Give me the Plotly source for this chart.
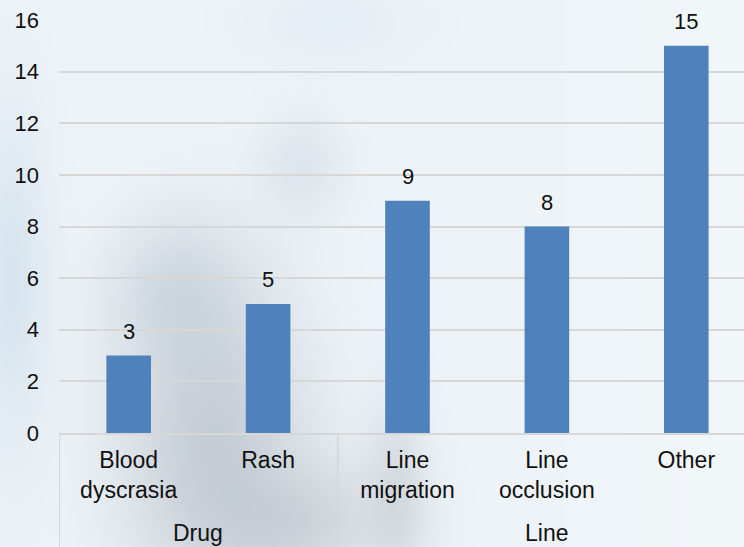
import base64
import struct
import zlib

import numpy as np
import plotly.graph_objects as go

# ---------------- data ----------------
groups = ["Drug", "Line"]
group_sizes = [2, 3]
categories = ["Blood<br>dyscrasia", "Rash", "Line<br>migration", "Line<br>occlusion", "Other"]
counts = [3, 5, 9, 8, 15]
y_ticks = [0, 2, 4, 6, 8, 10, 12, 14, 16]

# ---------------- layout constants ----------------
W, H = 744, 547
ML, MR, MT, MB = 59, 0, 20, 114
PW, PH = W - ML - MR, H - MT - MB
FONT = "Liberation Sans, Arial, sans-serif"
TXT = "#111111"
BAR = "#4f81bd"
GRID = "#d7d7d7"


# ---------------- soft blurred backdrop (decorative) ----------------
def make_backdrop(w=186, h=137):
    sx, sy = W / w, H / h
    yy, xx = np.mgrid[0:h, 0:w].astype(float)
    X, Y = xx * sx, yy * sy
    base = np.array([238, 244, 248], float)
    img = np.ones((h, w, 3)) * base

    def blob(cx, cy, rx, ry, col, s):
        a = s * np.exp(-(((X - cx) / rx) ** 2 + ((Y - cy) / ry) ** 2) / 2)
        return a[..., None], np.array(col, float)

    blobs = [
        (210, 430, 65, 110, (168, 177, 187), 0.55),
        (175, 290, 45, 50, (178, 190, 202), 0.4),
        (290, 520, 70, 45, (172, 180, 188), 0.45),
        (300, 165, 30, 35, (175, 192, 205), 0.25),
        (395, 490, 22, 70, (178, 185, 192), 0.35),
        (10, 280, 25, 120, (195, 215, 230), 0.5),
        (330, 20, 60, 30, (210, 225, 237), 0.3),
    ]
    for b in blobs:
        a, col = blob(*b)
        img = img * (1 - a) + col * a
    # brighter right side
    r = np.clip((X - 560) / 150, 0, 1)[..., None] * 0.5
    img = img * (1 - r) + np.array([246, 249, 251], float) * r
    return np.clip(img, 0, 255).astype(np.uint8)


def png_uri(arr):
    h, w, _ = arr.shape
    raw = b"".join(b"\x00" + arr[i].tobytes() for i in range(h))

    def chunk(tag, data):
        c = struct.pack(">I", len(data)) + tag + data
        return c + struct.pack(">I", zlib.crc32(tag + data) & 0xFFFFFFFF)

    png = b"\x89PNG\r\n\x1a\n" + chunk(b"IHDR", struct.pack(">IIBBBBB", w, h, 8, 2, 0, 0, 0))
    png += chunk(b"IDAT", zlib.compress(raw, 9)) + chunk(b"IEND", b"")
    return "data:image/png;base64," + base64.b64encode(png).decode()


# ---------------- figure ----------------
xs = list(range(len(categories)))
fig = go.Figure()
fig.add_trace(go.Bar(x=xs, y=counts, marker_color=BAR, width=0.32, marker_line_width=0))

# value labels
for x, v in zip(xs, counts):
    fig.add_annotation(x=x, y=v, xref="x", yref="y", text=str(v), showarrow=False,
                       yanchor="bottom", yshift=10, font=dict(family=FONT, size=22, color=TXT))

# group labels and dividers
start = 0
bounds = [-0.5]
for g, n in zip(groups, group_sizes):
    center = start + (n - 1) / 2
    fig.add_annotation(x=center, y=-100 / PH, xref="x", yref="paper", text=g, showarrow=False,
                       yanchor="middle", font=dict(family=FONT, size=23, color=TXT))
    start += n
    bounds.append(start - 0.5)
for b in bounds:
    fig.add_shape(type="line", xref="x", yref="paper", x0=b, x1=b, y0=0, y1=-MB / PH,
                  line=dict(color=GRID, width=2))

x_max = -0.5 + PW / 139.4
fig.update_layout(
    width=W, height=H,
    margin=dict(l=ML, r=MR, t=MT, b=MB, pad=0),
    paper_bgcolor="rgb(238,244,248)",
    plot_bgcolor="rgba(0,0,0,0)",
    showlegend=False,
    font=dict(family=FONT, size=22, color=TXT),
    images=[dict(source=png_uri(make_backdrop()), xref="paper", yref="paper",
                 x=-ML / PW, y=1 + MT / PH, sizex=W / PW, sizey=H / PH,
                 xanchor="left", yanchor="top", sizing="stretch", layer="below")],
    xaxis=dict(range=[-0.5, x_max], tickvals=xs, ticktext=categories, showgrid=False,
               zeroline=False, showline=True, linecolor=GRID, linewidth=2, ticks="",
               ticklabelstandoff=5, tickfont=dict(family=FONT, size=23, color=TXT)),
    yaxis=dict(range=[0, 16], tickvals=y_ticks, showgrid=True, gridcolor=GRID, gridwidth=2,
               zeroline=False, showline=False, ticks="", ticklabelstandoff=19,
               tickfont=dict(family=FONT, size=22, color=TXT)),
)

fig.write_html("out.html", config={"displayModeBar": False},
               post_script="document.body.style.margin='0';")
